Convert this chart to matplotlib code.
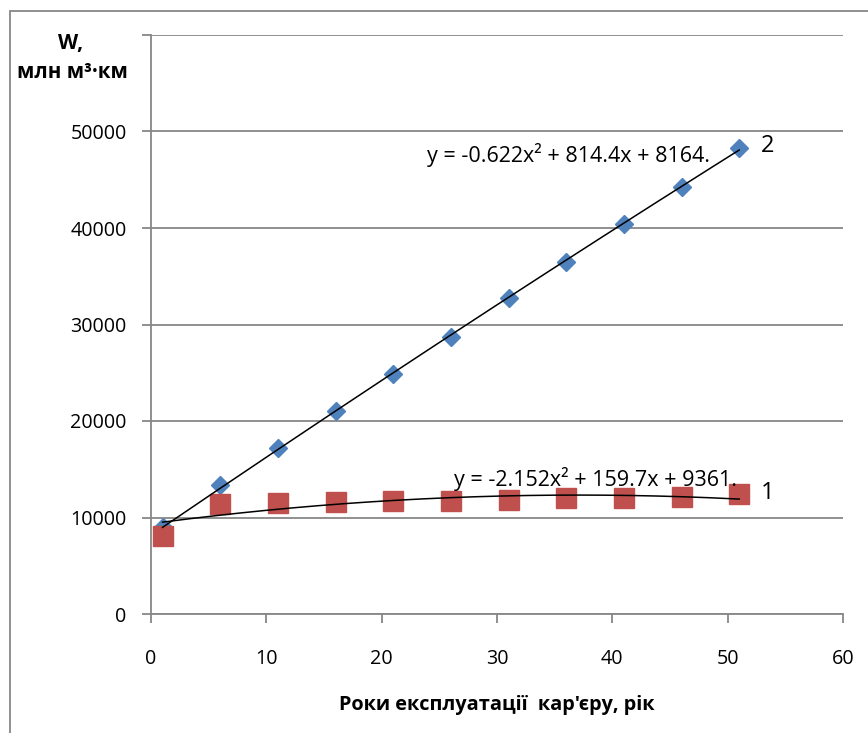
import matplotlib
matplotlib.use("Agg")
import matplotlib.pyplot as plt
import numpy as np
from matplotlib.patches import Rectangle

plt.rcParams['font.family'] = ['Open Sans', 'DejaVu Sans']

# data
years = [1, 6, 11, 16, 21, 26, 31, 36, 41, 46, 51]
series2 = [9030, 13380, 17220, 21060, 24900, 28730, 32780, 36510, 40460, 44290, 48240]
series1 = [8100, 11400, 11500, 11600, 11700, 11750, 11850, 12000, 12050, 12150, 12450]
coef2 = [-0.622, 814.4, 8164]
coef1 = [-2.152, 159.7, 9361]
eq2 = "y = -0.622x² + 814.4x + 8164."
eq1 = "y = -2.152x² + 159.7x + 9361."
xticks = [0, 10, 20, 30, 40, 50, 60]
yticks = [0, 10000, 20000, 30000, 40000, 50000, 60000]
ytick_labels = ["0", "10000", "20000", "30000", "40000", "50000", ""]

grey = "#878787"
fig = plt.figure(figsize=(8.68, 7.33), dpi=100)
ax = fig.add_axes([151/868, 1-614/733, (843-151)/868, (614-35)/733])

# outer chart frame
fig.patches.append(Rectangle((10/868, -0.1), 1.2, 1.1 - 11/733,
                             transform=fig.transFigure, fill=False,
                             edgecolor=grey, linewidth=1.3))

ax.set_xlim(0, 60)
ax.set_ylim(0, 60000)
ax.set_xticks(xticks)
ax.set_yticks(yticks)
ax.set_yticklabels(ytick_labels)
ax.grid(axis='y', color=grey, linewidth=1.3)
ax.set_axisbelow(True)
for s in ['top', 'right']:
    ax.spines[s].set_visible(False)
for s in ['left', 'bottom']:
    ax.spines[s].set_color(grey)
    ax.spines[s].set_linewidth(1.3)
ax.tick_params(axis='both', direction='out', length=6.5, width=1.3, color=grey,
               labelsize=14.2, labelcolor='black')
ax.tick_params(axis='x', pad=19)
ax.tick_params(axis='y', pad=11)

xx = np.linspace(years[0], years[-1], 200)
ax.plot(xx, np.polyval(coef2, xx), color='black', linewidth=1.1, zorder=3)
ax.plot(xx, np.polyval(coef1, xx), color='black', linewidth=1.1, zorder=3)

ax.plot(years, series2, linestyle='none', marker='D', markersize=9.5,
        color='#4F81BD', markeredgecolor='#4F81BD', zorder=2)
ax.plot(years, series1, linestyle='none', marker='s', markersize=14,
        color='#C0504D', markeredgecolor='#C0504D', zorder=2.5)

ax.text(23.9, 47600, eq2, fontsize=15.5, ha='left', va='center')
ax.text(26.3, 13950, eq1, fontsize=15.5, ha='left', va='center')
ax.text(52.9, 48500, "2", fontsize=17, ha='left', va='center')
ax.text(52.9, 12500, "1", fontsize=17, ha='left', va='center')

fig.text(71/868, 1-44/733, "W,", fontsize=15, fontweight='bold', ha='center', va='center')
fig.text(72/868, 1-72/733, "млн м³·км", fontsize=14.8, fontweight='bold', ha='center', va='center')
fig.text(497/868, 1-705/733, "Роки експлуатації  кар'єру, рік", fontsize=14.3,
         fontweight='bold', ha='center', va='center')

fig.savefig("out.png", dpi=100)
